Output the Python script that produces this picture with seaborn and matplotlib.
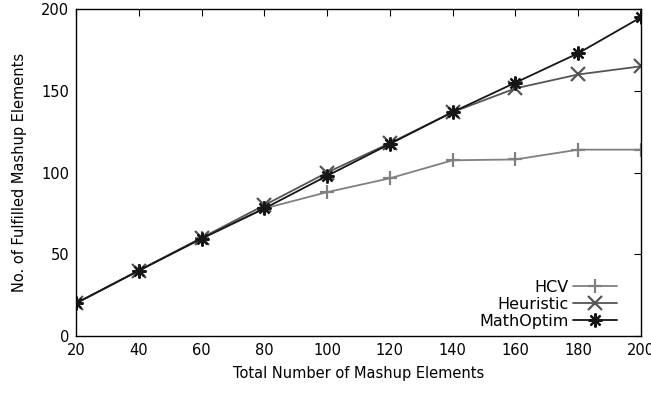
import pandas as pd
import seaborn as sns
import matplotlib.pyplot as plt

# Values
elements = [20, 40, 60, 80, 100, 120, 140, 160, 180, 200]
hcv = [20, 40, 60, 78, 88, 96.5, 107.5, 108, 114, 114]
heuristic = [20, 40, 60, 80, 100, 118, 137, 151.5, 160, 165]
mathoptim = [20, 40, 59.5, 78, 98, 117.5, 137, 155, 173, 195]

series = {"HCV": hcv, "Heuristic": heuristic, "MathOptim": mathoptim}
colors = {"HCV": "#808080", "Heuristic": "#555555", "MathOptim": "#161616"}
markers = {"HCV": "+", "Heuristic": "x", "MathOptim": (8, 2, 0)}

df = pd.DataFrame(
    [(x, name, y) for name, vals in series.items() for x, y in zip(elements, vals)],
    columns=["elements", "method", "fulfilled"],
)

sns.set_style("white")
plt.rcParams["font.family"] = ["DejaVu Sans"]
plt.rcParams["text.color"] = "black"
plt.rcParams["axes.labelcolor"] = "black"

fig = plt.figure(figsize=(6.51, 3.95), dpi=100)
ax = fig.add_axes([0.1167, 0.1494, 0.868, 0.8276])

for name in series:
    sns.lineplot(
        data=df[df["method"] == name],
        x="elements",
        y="fulfilled",
        label=name,
        color=colors[name],
        marker=markers[name],
        markersize=10,
        markeredgewidth=1.6,
        markeredgecolor=colors[name],
        linewidth=1.3,
        ax=ax,
    )

ax.set_xlim(20, 200)
ax.set_ylim(0, 200)
ax.set_xticks(range(20, 201, 20))
ax.set_yticks(range(0, 201, 50))
ax.tick_params(direction="in", top=True, right=True, length=5, width=0.8,
               labelsize=10.5, colors="black", pad=5)
for s in ax.spines.values():
    s.set_color("black")
    s.set_linewidth(1.0)

ax.set_xlabel("Total Number of Mashup Elements", fontsize=10.5, labelpad=6)
ax.set_ylabel("No. of Fulfilled Mashup Elements", fontsize=10.5, labelpad=10)

ax.legend(loc="lower right", bbox_to_anchor=(0.968, 0.003), frameon=False,
          markerfirst=False, fontsize=11.5, handlelength=2.75, labelspacing=0.12,
          borderaxespad=0.0, handletextpad=0.25)

fig.savefig("out.png", dpi=100)
